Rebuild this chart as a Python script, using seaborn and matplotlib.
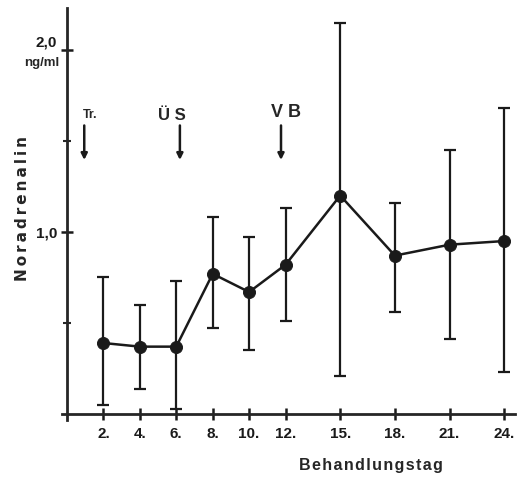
import pandas as pd
import matplotlib
matplotlib.use("Agg")
import matplotlib.pyplot as plt
import seaborn as sns

# Behandlungstag vs. Noradrenalin (ng/ml), mean with range
days = [2, 4, 6, 8, 10, 12, 15, 18, 21, 24]
mean = [0.39, 0.37, 0.37, 0.77, 0.67, 0.82, 1.20, 0.87, 0.93, 0.95]
upper = [0.75, 0.60, 0.73, 1.08, 0.97, 1.13, 2.15, 1.16, 1.45, 1.68]
lower = [0.05, 0.14, 0.03, 0.47, 0.35, 0.51, 0.21, 0.56, 0.41, 0.23]
day_labels = ["2.", "4.", "6.", "8.", "10.", "12.", "15.", "18.", "21.", "24."]

# treatment markers (arrows)
event_labels = ["Tr.", "Ü S", "V B"]
event_days = [0.95, 6.2, 11.75]

df = pd.DataFrame({"day": days, "mean": mean, "upper": upper, "lower": lower})

sns.set_style("ticks")
plt.rcParams["font.family"] = ["Liberation Sans", "DejaVu Sans"]
plt.rcParams["font.weight"] = "bold"


def spaced(s, sep="\u2009"):
    # loose letter spacing like the old print
    return sep.join(s)


fig = plt.figure(figsize=(5.19, 4.78), dpi=100)
ax = fig.add_axes([0.1195, 0.1213, 0.873, 0.862])

# error bars
ax.errorbar(df["day"], df["mean"],
            yerr=[df["mean"] - df["lower"], df["upper"] - df["mean"]],
            fmt="none", ecolor="#1a1a1a", elinewidth=1.6, capsize=4, capthick=1.6)
sns.lineplot(data=df, x="day", y="mean", ax=ax, color="#1a1a1a", linewidth=1.8)
sns.scatterplot(data=df, x="day", y="mean", ax=ax, color="#1a1a1a", s=75,
                edgecolor="#1a1a1a", zorder=5)

# arrows
for lab, d in zip(event_labels, event_days):
    ax.annotate("", xy=(d, 1.38), xytext=(d, 1.60),
                arrowprops=dict(arrowstyle="-|>", color="#1a1a1a", lw=1.8,
                                mutation_scale=9))
ax.text(event_days[0] - 0.1, 1.61, event_labels[0], fontsize=9, ha="left", va="bottom")
ax.text(event_days[1] - 0.45, 1.60, event_labels[1], fontsize=12, ha="center", va="bottom")
ax.text(event_days[2] + 0.3, 1.61, event_labels[2], fontsize=13, ha="center", va="bottom")

ax.set_xlim(-0.27, 24.6)
ax.set_ylim(-0.033, 2.23)
for s in ["top", "right"]:
    ax.spines[s].set_visible(False)
ax.spines["left"].set_position(("data", 0))
ax.spines["bottom"].set_position(("data", 0))
ax.spines["left"].set_linewidth(2)
ax.spines["bottom"].set_linewidth(2)
ax.spines["left"].set_bounds(-0.033, 2.23)

ax.set_xticks(days)
ax.set_xticklabels(day_labels, fontsize=11, fontweight="bold")
ax.set_yticks([1.0, 2.0])
ax.set_yticklabels(["1,0", "2,0"], fontsize=11, fontweight="bold")
ax.get_yticklabels()[1].set_va("bottom")
ax.set_yticks([0.5, 1.5], minor=True)
ax.tick_params(axis="both", which="major", direction="inout", length=8, width=1.8,
               colors="#1a1a1a", pad=3)
ax.tick_params(axis="y", which="minor", direction="inout", length=6, width=1.5)
ax.tick_params(axis="x", pad=5)
ax.text(-0.4, 1.93, "ng/ml", fontsize=9.5, ha="right", va="center")

ax.set_xlabel("")
ax.set_ylabel("")
fig.text(0.044, 0.563, spaced("Noradrenalin"), rotation=90, fontsize=11, ha="center",
         va="center", fontweight="bold", family="DejaVu Sans")
fig.text(0.715, 0.027, spaced("Behandlungstag", "\u200a"), fontsize=11.5, ha="center",
         va="center", fontweight="bold")

fig.savefig("out.png", dpi=100)
